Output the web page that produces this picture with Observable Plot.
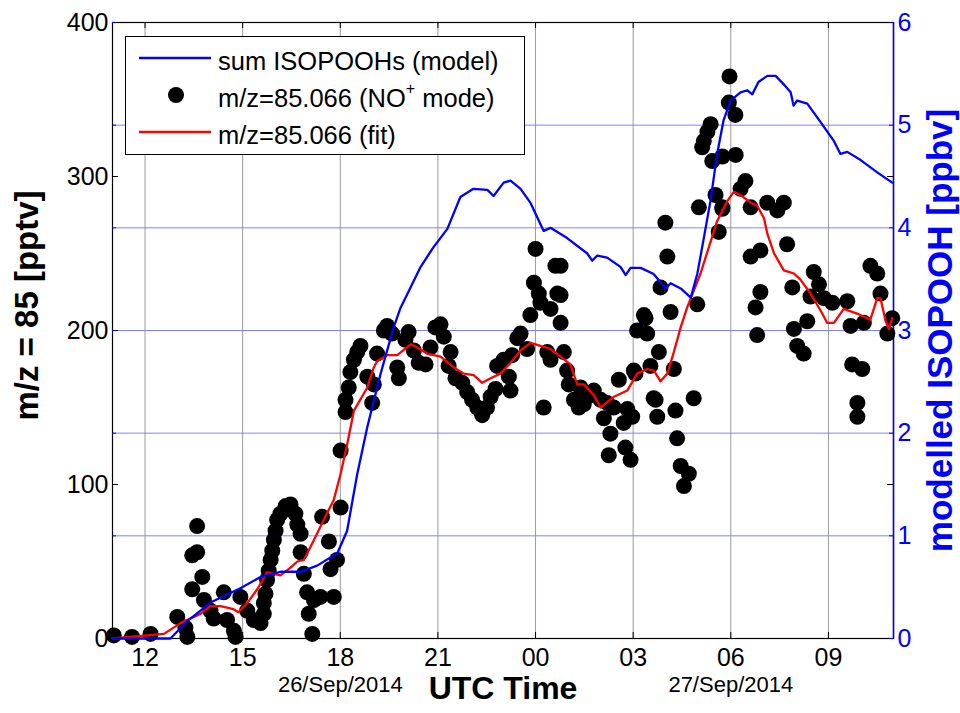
<!DOCTYPE html>
<html>
<head>
<meta charset="utf-8">
<script src="https://cdn.jsdelivr.net/npm/d3@7"></script>
<script src="https://cdn.jsdelivr.net/npm/@observablehq/plot@0.6"></script>
<style>
  html, body { margin: 0; padding: 0; background: #fff; }
  #wrap { position: relative; width: 960px; height: 713px; font-family: "Liberation Sans", Arial, sans-serif; }
  #legend { position: absolute; left: 125px; top: 36px; width: 400px; height: 119px; border: 1px solid #000; background: #fff; box-sizing: border-box; }
  .lg-row { position: absolute; left: 0; height: 36px; display: flex; align-items: center; font-size: 25.5px; color: #000; white-space: nowrap; }
  .lg-row svg { margin-left: 13px; margin-right: 7px; flex: none; }
  .lg-row span { position: relative; top: 3px; }
  sup { font-size: 16px; position: relative; top: -3px; vertical-align: top; line-height: 1; }
</style>
</head>
<body>
<div id="wrap">
  <div id="chart"></div>
  <div id="legend">
    <div class="lg-row" style="top:3px"><svg width="72" height="10"><line x1="0" y1="5" x2="72" y2="5" stroke="#0000ff" stroke-width="2.5"/></svg><span>sum ISOPOOHs (model)</span></div>
    <div class="lg-row" style="top:40px"><svg width="72" height="20"><circle cx="37" cy="10" r="8" fill="#000"/></svg><span>m/z=85.066 (NO<sup>+</sup> mode)</span></div>
    <div class="lg-row" style="top:77px"><svg width="72" height="10"><line x1="0" y1="5" x2="72" y2="5" stroke="#ff0000" stroke-width="2.5"/></svg><span>m/z=85.066 (fit)</span></div>
  </div>
</div>
<script>
// ---- data (time = hours since 26 Sep 2014 00:00 UTC) ----
const modelTime = [11.00,12.78,13.30,14.01,14.93,15.55,16.16,16.78,17.29,17.91,18.21,18.52,18.83,19.24,19.64,19.85,20.47,20.86,21.29,21.69,22.09,22.52,22.71,23.02,23.23,23.54,23.85,24.25,24.46,24.97,25.59,25.74,25.90,26.20,26.61,26.77,26.92,27.23,27.63,28.00,28.15,28.46,28.77,28.97,29.16,29.38,29.58,29.78,29.99,30.30,30.51,30.66,30.85,31.12,31.38,31.62,31.84,31.93,32.04,32.35,32.76,33.16,33.37,33.58,33.99,34.50,34.96];
const modelPpbv = [0,0,0.17,0.35,0.49,0.60,0.65,0.65,0.71,0.83,1.05,1.60,2.06,2.58,3.03,3.22,3.62,3.81,3.99,4.30,4.38,4.37,4.31,4.44,4.46,4.38,4.24,3.97,4.00,3.90,3.75,3.68,3.73,3.71,3.62,3.54,3.61,3.61,3.55,3.41,3.46,3.41,3.32,3.55,3.88,4.27,4.72,5.05,5.24,5.32,5.34,5.30,5.42,5.48,5.48,5.40,5.32,5.19,5.24,5.21,5.03,4.85,4.72,4.74,4.66,4.54,4.44];

const fitTime = [11.00,12.58,13.09,13.70,14.01,14.32,14.72,14.87,15.14,15.45,15.75,16.16,16.47,16.68,16.88,17.19,17.49,17.80,18.01,18.21,18.42,18.83,19.03,19.13,19.44,19.75,20.16,20.36,20.67,21.08,21.49,21.80,22.10,22.36,22.62,22.92,23.23,23.54,23.85,24.15,24.46,24.77,25.07,25.28,25.48,25.79,26.00,26.41,26.82,27.12,27.43,27.64,27.84,28.05,28.25,28.46,28.66,29.07,29.58,29.89,30.09,30.30,30.61,30.81,31.02,31.12,31.33,31.63,31.94,32.14,32.45,32.76,32.96,33.17,33.47,33.88,34.29,34.50,34.60,34.76,34.86,34.96];
const fitPptv = [0,3,10,16,21,21,19,17,23,32,43,41,46,50,51,64,77,90,107,126,148,163,176,180,184,184,191,189,185,183,176,172,171,166,169,172,179,187,192,190,188,183,178,165,165,158,150,157,161,172,175,174,167,172,186,202,215,237,271,284,290,288,283,281,273,263,250,239,237,233,224,213,205,205,214,211,207,221,221,206,201,208];

const obsTime = [11.04,11.60,12.17,12.99,13.24,13.30,13.60,13.60,13.45,13.76,13.45,13.81,14.01,14.11,14.42,14.52,14.73,14.78,14.93,15.14,15.34,15.55,15.65,15.65,15.70,15.75,15.80,15.86,15.91,15.96,16.01,16.06,16.16,16.32,16.47,16.62,16.68,16.78,16.78,16.88,16.98,17.19,17.03,17.14,17.39,17.44,17.65,17.70,17.80,18.01,17.90,18.01,18.16,18.16,18.26,18.31,18.42,18.52,18.62,18.83,19.03,18.98,19.13,19.34,19.44,19.59,19.75,19.80,20.00,20.10,20.26,20.41,20.62,20.77,20.92,21.08,21.18,21.39,21.33,21.54,21.75,21.90,22.05,22.21,22.36,22.51,22.62,22.77,22.82,23.02,23.18,23.23,23.28,23.44,23.54,23.74,23.84,24.25,24.15,24.46,24.77,24.36,24.46,24.87,24.97,25.02,25.18,25.33,25.48,24.00,24.61,23.95,24.10,24.67,27.99,28.05,27.84,28.15,27.33,27.12,27.43,27.79,27.53,27.02,26.56,27.63,28.25,25.38,25.79,26.20,26.40,26.82,24.77,24.77,25.59,26.00,26.10,26.30,26.25,26.71,26.97,26.76,26.92,27.07,27.38,27.69,27.74,28.30,28.35,28.46,28.71,28.56,28.86,28.97,29.02,29.63,29.74,29.96,29.94,30.14,29.38,29.28,29.17,29.12,29.43,29.74,30.15,30.45,30.30,29.53,29.74,30.61,31.12,31.43,31.63,31.73,30.91,30.61,32.55,31.89,30.91,30.76,32.45,32.86,33.12,33.58,33.68,34.29,34.50,34.60,32.35,31.94,30.81,34.09,34.96,34.81,32.71,32.04,32.24,33.73,34.04,33.89,33.89];
const obsPptv = [2,1,3,14,7,1,73,56,54,40,32,25,18,13,30,12,5,1,27,18,12,10,16,23,29,38,44,51,57,64,70,77,81,86,87,81,74,68,56,42,30,25,16,3,27,79,63,45,27,85,51,122,147,155,163,173,181,186,190,170,165,153,185,200,203,198,176,169,194,199,187,179,178,189,202,204,196,186,177,169,166,160,155,150,145,150,157,162,177,181,170,161,184,195,198,188,210,150,218,214,205,186,181,186,174,165,155,150,152,253,242,231,224,224,270,248,228,212,210,200,198,186,177,174,168,156,175,163,161,153,150,149,242,223,157,155,143,133,119,140,144,124,116,172,208,155,144,148,130,112,107,99,156,217,280,264,280,365,348,340,334,329,323,319,310,313,314,297,292,288,279,280,283,278,283,256,252,248,238,228,225,215,222,221,218,219,203,242,237,224,206,201,197,205,208,198,230,190,185,178,175,153,144];

const xTickHours = [12,15,18,21,24,27,30,33];
const leftTicks = [0,100,200,300,400];
const rightTicks = [0,1,2,3,4,5,6];
const dateLabels = [{h:18, label:"26/Sep/2014"},{h:30, label:"27/Sep/2014"}];
// ---------------------------------------------------------

const t0 = Date.UTC(2014, 8, 26);
const toDate = h => new Date(t0 + h * 3600e3);
const ratio = 400 / 6;

const model = modelTime.map((h, i) => ({t: toDate(h), v: modelPpbv[i] * ratio}));
const fit = fitTime.map((h, i) => ({t: toDate(h), v: fitPptv[i]}));
const obs = obsTime.map((h, i) => ({t: toDate(h), v: obsPptv[i]}));
const xTicks = xTickHours.map(toDate);
const rightTicksScaled = rightTicks.map(v => v * ratio);

const W = 960, H = 713, mT = 22, mB = 75, mL = 112, mR = 67;
const plotH = H - mT - mB, plotW = W - mL - mR;
const tickLen = 6;
const BLUE = "#0000ff";

const chart = Plot.plot({
  width: W, height: H,
  marginTop: mT, marginBottom: mB, marginLeft: mL, marginRight: mR,
  style: {fontFamily: "'Liberation Sans', Arial, sans-serif", background: "white", overflow: "visible"},
  x: {type: "utc", domain: [toDate(11), toDate(35)]},
  y: {domain: [0, 400]},
  marks: [
    // grid
    Plot.ruleX(xTicks, {x: d => d, stroke: "#9a9a9a", strokeWidth: 1}),
    Plot.ruleY(rightTicksScaled.slice(1, -1), {y: d => d, stroke: "#8080ff", strokeWidth: 1}),
    // frame
    Plot.frame({stroke: "#000", strokeWidth: 1.2}),
    Plot.ruleX([toDate(35)], {x: d => d, stroke: BLUE, strokeWidth: 1.5}),
    // tick marks (inward)
    Plot.tickX(xTicks, {x: d => d, insetTop: plotH - tickLen, stroke: "#000"}),
    Plot.tickX(xTicks, {x: d => d, insetBottom: plotH - tickLen, stroke: "#000"}),
    Plot.tickY(leftTicks, {y: d => d, insetRight: plotW - tickLen, stroke: "#000"}),
    Plot.tickY(leftTicks, {y: d => d, insetLeft: plotW - tickLen, stroke: "#000"}),
    Plot.tickY(rightTicksScaled, {y: d => d, insetRight: plotW - tickLen + 2, stroke: BLUE}),
    Plot.tickY(rightTicksScaled, {y: d => d, insetLeft: plotW - tickLen + 2, stroke: BLUE}),
    // axes labels
    Plot.axisX(xTicks, {tickSize: 0, tickPadding: 10, fontSize: 25, tickFormat: d3.utcFormat("%H"), label: null, color: "#000"}),
    Plot.axisY(leftTicks, {anchor: "left", tickSize: 0, tickPadding: 4, fontSize: 25, label: null, color: "#000"}),
    Plot.axisY(rightTicksScaled, {anchor: "right", tickSize: 0, tickPadding: 4, fontSize: 25, label: null, color: BLUE, tickFormat: d => Math.round(d / ratio)}),
    Plot.text(dateLabels, {x: d => toDate(d.h), frameAnchor: "bottom", dy: 53, text: "label", fontSize: 22, fill: "#000"}),
    Plot.text(["UTC Time"], {frameAnchor: "bottom", dy: 60, text: d => d, fontSize: 32, fontWeight: "bold", fill: "#000"}),
    Plot.text(["m/z = 85 [pptv]"], {frameAnchor: "left", textAnchor: "middle", dx: -85, dy: -25, rotate: -90, text: d => d, fontSize: 33, fontWeight: "bold", fill: "#000"}),
    Plot.text(["modelled ISOPOOH [ppbv]"], {frameAnchor: "right", textAnchor: "middle", dx: 47, rotate: -90, text: d => d, fontSize: 35, fontWeight: "bold", fill: BLUE}),
    // data
    Plot.dot(obs, {x: "t", y: "v", r: 8, fill: "#000", stroke: "none"}),
    Plot.line(fit, {x: "t", y: "v", stroke: "#ff0000", strokeWidth: 2.3}),
    Plot.line(model, {x: "t", y: "v", stroke: BLUE, strokeWidth: 2.3})
  ]
});
document.getElementById("chart").appendChild(chart);
</script>
</body>
</html>
